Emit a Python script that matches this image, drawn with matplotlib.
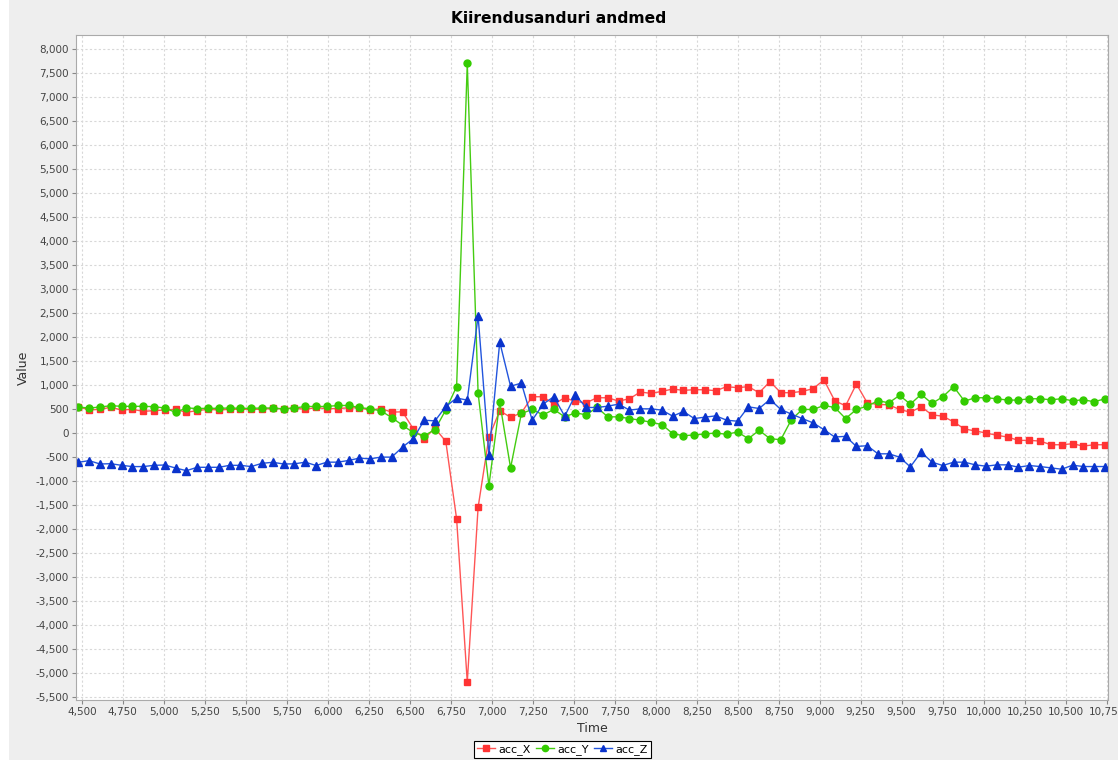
import matplotlib
matplotlib.use('Agg')
import matplotlib.pyplot as plt
from matplotlib.ticker import MultipleLocator, FuncFormatter
from matplotlib.patches import Rectangle

# Andmed (loetud graafikult)
times = [4479, 4545, 4611, 4677, 4743, 4809, 4875, 4940, 5006, 5072,
         5138, 5204, 5270, 5336, 5402, 5468, 5533, 5599, 5665, 5731,
         5797, 5863, 5929, 5995, 6061, 6127, 6192, 6258, 6324, 6390,
         6456, 6522, 6588, 6654, 6720, 6786, 6851, 6917, 6983, 7049,
         7115, 7181, 7247, 7313, 7379, 7445, 7510, 7576, 7642, 7708,
         7774, 7840, 7906, 7972, 8038, 8104, 8169, 8235, 8301, 8367,
         8433, 8499, 8565, 8631, 8697, 8763, 8828, 8894, 8960, 9026,
         9092, 9158, 9224, 9290, 9356, 9422, 9487, 9553, 9619, 9685,
         9751, 9817, 9883, 9949, 10015, 10081, 10146, 10212, 10278, 10344,
         10410, 10476, 10542, 10608, 10674, 10740]

acc_x = [548, 479, 493, 535, 479, 493, 451, 465, 479, 493,
         431, 465, 493, 479, 493, 493, 493, 493, 514, 503,
         524, 490, 531, 503, 510, 524, 524, 476, 510, 434,
         441, 84, -119, 100, -175, -1790, -5190, -1550, -90, 465,
         325, 420, 755, 755, 601, 734, 657, 629, 734, 734,
         664, 713, 853, 825, 867, 916, 888, 902, 900, 881,
         965, 944, 965, 839, 1070, 839, 839, 867, 923, 1105,
         671, 566, 1021, 629, 594, 587, 490, 434, 545, 378,
         350, 231, 84, 42, 0, -49, -84, -154, -154, -168,
         -245, -245, -224, -273, -245, -245]

acc_y = [540, 520, 540, 569, 555, 555, 555, 548, 520, 430,
         521, 510, 514, 514, 520, 514, 514, 520, 520, 500,
         520, 552, 552, 552, 573, 573, 531, 503, 462, 322,
         161, 7, -56, 70, 482, 965, 7700, 833, -1096, 636,
         -727, 406, 490, 378, 490, 336, 420, 378, 531, 336,
         336, 301, 266, 224, 175, -14, -56, -42, -20, 0,
         -28, 21, -119, 56, -119, -140, 280, 490, 490, 573,
         531, 301, 490, 559, 671, 629, 783, 601, 804, 615,
         755, 965, 664, 734, 734, 713, 685, 685, 713, 713,
         692, 713, 671, 692, 650, 713]

acc_z = [-611, -576, -646, -640, -674, -700, -700, -674, -667, -730,
         -785, -715, -715, -715, -674, -674, -700, -632, -611, -646,
         -643, -608, -678, -608, -608, -573, -524, -538, -503, -503,
         -294, -119, 266, 252, 552, 728, 684, 2438, -456, 1894,
         973, 1040, 266, 601, 755, 350, 790, 531, 531, 559,
         601, 476, 503, 503, 476, 350, 448, 301, 330, 357,
         266, 245, 545, 510, 699, 490, 392, 301, 210, 70,
         -84, -70, -280, -266, -434, -434, -503, -706, -399, -608,
         -678, -608, -608, -664, -692, -664, -664, -713, -678, -699,
         -727, -755, -671, -699, -699, -699]

plt.rcParams['font.family'] = ['DejaVu Sans']

fig = plt.figure(figsize=(11.18, 7.6), dpi=100, facecolor='#eeeeee')
# valge riba vasakul
fig.patches.append(Rectangle((0, 0), 9 / 1118, 1, transform=fig.transFigure,
                             facecolor='white', edgecolor='none', zorder=-1))
ax = fig.add_axes([0.068, 0.079, 0.923, 0.875])
ax.set_facecolor('white')

ax.plot(times, acc_x, color='#ff5555', linewidth=1.0, marker='s', markersize=5,
        markerfacecolor='#ff3333', markeredgecolor='#ff3333', label='acc_X')
ax.plot(times, acc_y, color='#44cc11', linewidth=1.0, marker='o', markersize=5,
        markerfacecolor='#33cc00', markeredgecolor='#33cc00', label='acc_Y')
ax.plot(times, acc_z, color='#2255dd', linewidth=1.0, marker='^', markersize=5.5,
        markerfacecolor='#0a33cc', markeredgecolor='#0a33cc', label='acc_Z')

ax.set_xlim(4465, 10758)
ax.set_ylim(-5562, 8292)
ax.xaxis.set_major_locator(MultipleLocator(250))
ax.yaxis.set_major_locator(MultipleLocator(500))
fmt = FuncFormatter(lambda v, p: '{:,}'.format(int(round(v))))
ax.xaxis.set_major_formatter(fmt)
ax.yaxis.set_major_formatter(fmt)
ax.tick_params(labelsize=7.5, length=3, color='#888888', labelcolor='#444444', pad=2)

ax.grid(True, color='#d8d8d8', linestyle=(0, (2, 2)), linewidth=0.8)
ax.set_axisbelow(True)
for s in ax.spines.values():
    s.set_color('#aaaaaa')
    s.set_linewidth(0.8)

# pealkiri kogu joonise keskel
fig.text(0.5, 0.976, 'Kiirendusanduri andmed', fontsize=11.2, fontweight='bold',
         ha='center', va='center')
ax.set_xlabel('Time', fontsize=9, color='#333333', labelpad=4)
ax.set_ylabel('Value', fontsize=9, color='#333333', labelpad=4)

leg = fig.legend(loc='center', bbox_to_anchor=(0.503, 0.014), ncol=3,
                 fontsize=8, fancybox=False, edgecolor='black', framealpha=1,
                 handlelength=1.6, columnspacing=0.5, handletextpad=0.3,
                 borderpad=0.3, markerscale=0.9)
leg.get_frame().set_linewidth(0.8)

fig.savefig('out.png', dpi=100, facecolor=fig.get_facecolor())
